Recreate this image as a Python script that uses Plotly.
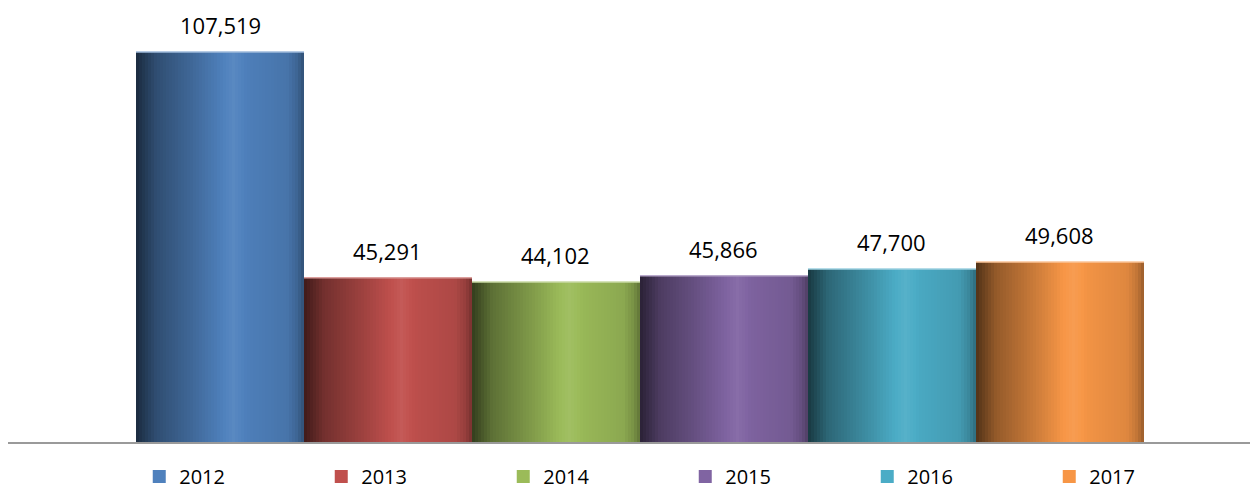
import plotly.graph_objects as go

years = ["2012", "2013", "2014", "2015", "2016", "2017"]
values = [107519, 45291, 44102, 45866, 47700, 49608]
base_colors = ["#4F81BD", "#C0504D", "#9BBB59", "#8064A2", "#4BACC6", "#F79646"]

# cylinder-like shading profile (position across bar, brightness factor)
profile = [(0.0, 0.33), (0.04, 0.42), (0.12, 0.6), (0.35, 0.82), (0.58, 1.06),
           (0.66, 0.98), (0.9, 0.9), (0.96, 0.78), (1.0, 0.62)]
N = 56


def hex_rgb(h):
    h = h.lstrip("#")
    return tuple(int(h[i:i + 2], 16) for i in (0, 2, 4))


def shade(h, f):
    r, g, b = hex_rgb(h)
    if f <= 1:
        c = [v * f for v in (r, g, b)]
    else:
        t = f - 1
        c = [v + (255 - v) * t for v in (r, g, b)]
    return "rgb(%d,%d,%d)" % tuple(max(0, min(255, round(v))) for v in c)


def factor(t):
    for (t0, f0), (t1, f1) in zip(profile[:-1], profile[1:]):
        if t0 <= t <= t1:
            return f0 + (f1 - f0) * (t - t0) / (t1 - t0)
    return profile[-1][1]


def lighten(h, t):
    r, g, b = hex_rgb(h)
    return "rgb(%d,%d,%d)" % tuple(round(v + (255 - v) * t) for v in (r, g, b))


fig = go.Figure()
FONT = "Open Sans"

for i, (yr, v, col) in enumerate(zip(years, values, base_colors)):
    w = 1.0 / N
    xs = [i - 0.5 + (j + 0.5) * w for j in range(N)]
    cols = [shade(col, factor((j + 0.5) / N)) for j in range(N)]
    xs_draw = xs[:-1]
    # strips slightly wider than their slot so they overlap (no seams)
    fig.add_trace(go.Bar(
        x=xs_draw, y=[v] * len(xs_draw), width=w * 1.8,
        offset=-w / 2,
        marker=dict(color=cols[:-1], line=dict(width=0)),
        showlegend=False, hoverinfo="skip",
    ))
    fig.add_trace(go.Bar(
        x=[xs[-1]], y=[v], width=w, offset=-w / 2,
        marker=dict(color=cols[-1], line=dict(width=0)),
        showlegend=False, hoverinfo="skip",
    ))
    # light top rim
    fig.add_trace(go.Scatter(
        x=[i - 0.5, i + 0.5], y=[v, v], mode="lines",
        line=dict(color=lighten(col, 0.45), width=1.5),
        showlegend=False, hoverinfo="skip",
    ))
    # legend entry
    fig.add_trace(go.Scatter(
        x=[None], y=[None], mode="markers", name=yr,
        marker=dict(symbol="square", size=13, color=col),
    ))
    fig.add_annotation(
        x=i, y=v, text=f"{v:,}", showarrow=False, yshift=27,
        font=dict(family=FONT, size=22, color="#000000"),
    )

fig.update_layout(
    width=1250, height=484,
    margin=dict(l=0, r=0, t=2, b=50, autoexpand=False),
    paper_bgcolor="white", plot_bgcolor="white",
    barmode="overlay", bargap=0,
    xaxis=dict(range=[-1.262, 6.179], showgrid=False, zeroline=False,
               showticklabels=False, showline=True, linecolor="#9a9a9a",
               linewidth=2, fixedrange=True),
    yaxis=dict(range=[0, 119099], visible=False, fixedrange=True),
    legend=dict(orientation="h", x=0.105, xanchor="left", y=-0.08, yanchor="middle",
                entrywidth=137, entrywidthmode="pixels",
                font=dict(family=FONT, size=20, color="#000000"),
                bgcolor="rgba(0,0,0,0)"),
    showlegend=True,
)

fig.write_html("out.html")
